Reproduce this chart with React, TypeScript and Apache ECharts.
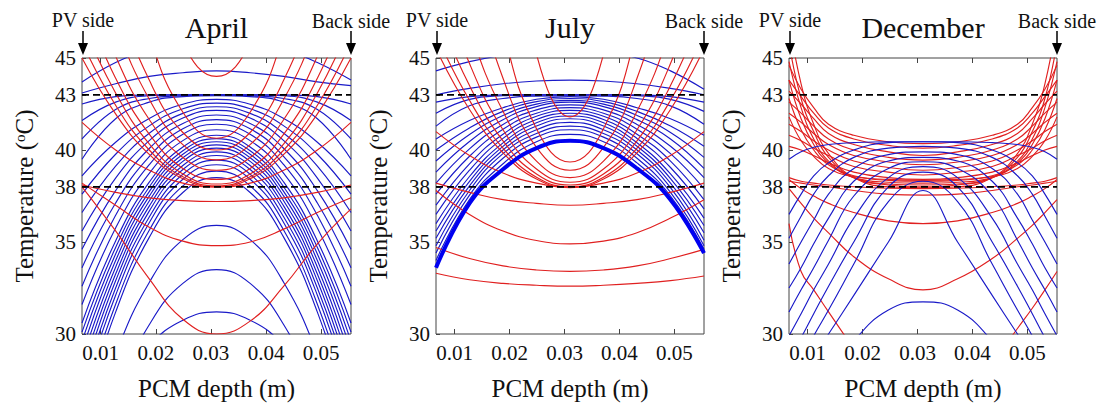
import React, { useEffect, useRef } from "react";
import * as echarts from "echarts";

// ---------- data ----------
const X_APR_JUL = [0.0066, 0.0127, 0.0188, 0.0249, 0.031, 0.0371, 0.0432, 0.0493, 0.0554];
const X_DEC = [0.0066, 0.0088, 0.0111, 0.0138, 0.0184, 0.0247, 0.031, 0.0373, 0.0436, 0.0482, 0.0509, 0.0532, 0.0554];
const X_TICKS = [0.01, 0.02, 0.03, 0.04, 0.05];
const Y_TICKS = [30, 35, 38, 40, 43, 45];
const MELT_RANGE = [38, 43];
const MONTHS = ["April", "July", "December"];

const APRIL_BLUE = [
  [43.7, 44.75, 45.5, 45.95, 46.1, 45.95, 45.5, 44.75, 43.8],
  [43.1, 43.6, 44.0, 44.2, 44.3, 44.2, 44.0, 43.7, 43.5],
  [42.5, 42.9, 43.0, 43.0, 43.0, 43.0, 43.0, 42.9, 42.5],
  [41.6, 42.6, 42.95, 43.0, 43.0, 43.0, 42.95, 42.6, 41.6],
  [40.6, 42.2, 42.8, 42.95, 43.0, 42.95, 42.8, 42.2, 40.6],
  [39.5, 41.7, 42.6, 42.9, 42.95, 42.9, 42.6, 41.7, 39.5],
  [38.6, 40.42, 41.71, 42.49, 42.75, 42.49, 41.71, 40.42, 38.6],
  [37.6, 39.77, 41.31, 42.24, 42.55, 42.24, 41.31, 39.77, 37.6],
  [36.6, 39.12, 40.91, 41.99, 42.35, 41.99, 40.91, 39.12, 36.6],
  [35.6, 38.47, 40.51, 41.74, 42.15, 41.74, 40.51, 38.47, 35.6],
  [34.6, 37.79, 40.08, 41.44, 41.9, 41.44, 40.08, 37.79, 34.6],
  [33.6, 37.12, 39.64, 41.15, 41.65, 41.15, 39.64, 37.12, 33.6],
  [32.6, 36.45, 39.2, 40.85, 41.4, 40.85, 39.2, 36.45, 32.6],
  [31.6, 35.76, 38.73, 40.51, 41.1, 40.51, 38.73, 35.76, 31.6],
  [30.6, 35.06, 38.25, 40.16, 40.8, 40.16, 38.25, 35.06, 30.6],
  [30.1, 34.7, 37.99, 39.96, 40.62, 39.96, 37.99, 34.7, 30.1],
  [29.6, 34.35, 37.74, 39.77, 40.45, 39.77, 37.74, 34.35, 29.6],
  [29.1, 33.99, 37.49, 39.58, 40.28, 39.58, 37.49, 33.99, 29.1],
  [28.6, 33.63, 37.23, 39.38, 40.1, 39.38, 37.23, 33.63, 28.6],
  [28.1, 33.26, 36.95, 39.16, 39.9, 39.16, 36.95, 33.26, 28.1],
  [27.6, 32.89, 36.68, 38.94, 39.7, 38.94, 36.68, 32.89, 27.6],
  [27.1, 32.5, 36.36, 38.68, 39.45, 38.68, 36.36, 32.5, 27.1],
  [26.6, 32.11, 36.05, 38.41, 39.2, 38.41, 36.05, 32.11, 26.6],
  [26.0, 31.62, 35.64, 38.05, 38.85, 38.05, 35.64, 31.62, 26.0],
  [25.5, 31.19, 35.25, 37.69, 38.5, 37.69, 35.25, 31.19, 25.5],
  [23.5, 28.9, 32.8, 35.13, 35.9, 35.13, 32.8, 28.9, 23.5],
  [21.5, 26.75, 30.5, 32.75, 33.5, 32.75, 30.5, 26.75, 21.5],
  [24.0, 27.15, 29.4, 30.75, 31.2, 30.75, 29.4, 27.15, 24.0],
];

const APRIL_RED = [
  [73, 60.3, 51.2, 45.8, 44.0, 45.8, 51.2, 60.3, 73],
  [63.2, 53.3, 46.3, 42.05, 40.64, 42.05, 46.3, 53.3, 63.2],
  [55.2, 48.55, 43.8, 40.95, 40.0, 40.95, 43.8, 48.55, 55.2],
  [52.7, 46.9, 42.76, 40.29, 39.46, 40.29, 42.76, 46.9, 52.7],
  [49.9, 45.1, 41.66, 39.59, 38.9, 39.59, 41.66, 45.1, 49.9],
  [48.2, 43.9, 40.86, 39.0, 38.4, 39.0, 40.86, 43.9, 48.2],
  [46.9, 43.1, 40.33, 38.7, 38.15, 38.7, 40.33, 43.1, 46.9],
  [45.85, 42.43, 40.0, 38.54, 38.05, 38.54, 40.0, 42.43, 45.85],
  [45.0, 41.96, 39.76, 38.44, 38.0, 38.44, 39.76, 41.96, 45.0],
  [41.5, 40.0, 38.9, 38.2, 38.0, 38.2, 38.9, 40.0, 41.5],
  [38.1, 37.7, 37.4, 37.25, 37.2, 37.25, 37.4, 37.7, 38.1],
  [38.2, 37.0, 35.8, 35.05, 34.8, 35.0, 35.7, 36.6, 37.4],
  [38.0, 35.6, 33.0, 30.8, 30.0, 30.7, 32.6, 34.9, 36.8],
];

const JULY_BLUE = [
  [44.3, 44.8, 45.15, 45.35, 45.4, 45.3, 45.0, 44.3, 43.3],
  [43.0, 43.35, 43.6, 43.75, 43.8, 43.75, 43.6, 43.35, 43.0],
  [42.6, 42.9, 43.0, 43.0, 43.0, 43.0, 43.0, 42.9, 42.6],
  [42.0, 42.75, 42.95, 43.0, 43.0, 43.0, 42.95, 42.75, 42.1],
  [41.3, 42.4, 42.8, 42.93, 42.95, 42.93, 42.8, 42.4, 41.4],
  [40.6, 41.6, 42.3, 42.76, 42.9, 42.76, 42.3, 41.7, 40.8],
  [40.0, 41.2, 42.1, 42.63, 42.8, 42.63, 42.1, 41.3, 40.2],
  [39.4, 40.84, 41.88, 42.49, 42.7, 42.49, 41.88, 40.95, 39.6],
  [38.8, 40.46, 41.65, 42.36, 42.6, 42.36, 41.65, 40.6, 39.0],
  [38.2, 40.06, 41.39, 42.18, 42.45, 42.18, 41.39, 40.2, 38.5],
  [37.6, 39.66, 41.13, 42.0, 42.3, 42.0, 41.13, 39.8, 37.9],
  [37.0, 39.25, 40.86, 41.83, 42.15, 41.83, 40.86, 39.4, 37.3],
  [36.5, 38.9, 40.63, 41.66, 42.0, 41.66, 40.63, 39.05, 36.8],
  [36.0, 38.56, 40.39, 41.48, 41.85, 41.48, 40.39, 38.7, 36.3],
  [35.6, 38.3, 40.2, 41.3, 41.7, 41.3, 40.2, 38.45, 35.9],
  [35.2, 38.05, 40.0, 41.1, 41.5, 41.1, 40.0, 38.2, 35.5],
  [34.8, 37.8, 39.8, 40.9, 41.3, 40.9, 39.8, 37.95, 35.1],
  [34.4, 37.55, 39.55, 40.7, 41.1, 40.7, 39.55, 37.7, 34.8],
  [34.0, 37.3, 39.25, 40.45, 40.85, 40.45, 39.3, 37.5, 34.6],
];
const JULY_THICK = [33.6, 37.1, 38.95, 40.1, 40.5, 40.1, 39.0, 37.3, 34.4];

const JULY_RED = [
  [96, 72, 55.4, 45.2, 41.8, 45.2, 55.4, 72, 96],
  [68.2, 55.6, 46.6, 41.16, 39.35, 41.16, 46.6, 55.6, 68.2],
  [58.7, 50.1, 43.9, 40.14, 38.9, 40.14, 43.9, 50.1, 58.7],
  [52.9, 46.6, 42.1, 39.4, 38.5, 39.4, 42.1, 46.6, 52.9],
  [49.8, 44.7, 41.1, 38.97, 38.25, 38.97, 41.1, 44.7, 49.8],
  [47.7, 43.5, 40.5, 38.7, 38.1, 38.7, 40.5, 43.5, 47.7],
  [46.3, 42.7, 40.1, 38.52, 38.0, 38.52, 40.1, 42.7, 46.3],
  [45.5, 42.2, 39.85, 38.42, 37.95, 38.42, 39.85, 42.2, 45.5],
  [41.0, 39.7, 38.75, 38.2, 38.0, 38.2, 38.75, 39.7, 41.0],
  [38.2, 37.7, 37.3, 37.1, 37.0, 37.1, 37.3, 37.7, 38.2],
  [37.8, 36.5, 35.6, 35.08, 34.9, 35.05, 35.5, 36.3, 37.3],
  [34.7, 34.1, 33.7, 33.48, 33.4, 33.48, 33.7, 34.1, 34.6],
  [33.3, 32.95, 32.75, 32.65, 32.6, 32.65, 32.75, 32.9, 33.15],
];

const DEC_BLUE = [
  [39.5, 39.9, 40.15, 40.3, 40.4, 40.45, 40.45, 40.45, 40.4, 40.3, 40.15, 39.9, 39.5],
  [36.5, 37.6, 38.6, 39.3, 40.0, 40.4, 40.45, 40.4, 40.0, 39.3, 38.6, 37.6, 36.5],
  [35.2, 36.4, 37.6, 38.6, 39.6, 40.1, 40.2, 40.1, 39.6, 38.6, 37.6, 36.4, 35.2],
  [33.8, 35.0, 36.2, 37.6, 39.0, 39.75, 39.9, 39.75, 39.0, 37.6, 36.2, 35.0, 33.8],
  [32.5, 33.6, 34.9, 36.3, 38.3, 39.4, 39.6, 39.4, 38.3, 36.3, 34.9, 33.6, 32.5],
  [31.2, 32.4, 33.6, 35.1, 37.5, 39.0, 39.36, 39.0, 37.5, 35.1, 33.6, 32.4, 31.2],
  [29.9, 31.1, 32.4, 33.8, 36.3, 38.5, 39.1, 38.5, 36.3, 33.8, 32.4, 31.1, 29.9],
  [28.7, 29.8, 31.1, 32.6, 35.0, 38.0, 38.8, 38.0, 35.0, 32.6, 31.1, 29.8, 28.7],
  [27.5, 28.6, 29.9, 31.3, 33.8, 37.2, 38.3, 37.2, 33.8, 31.3, 29.9, 28.6, 27.5],
  [26.7, 27.7, 28.8, 30.0, 32.1, 35.0, 37.8, 35.0, 32.1, 30.0, 28.8, 27.7, 26.7],
  [24.0, 25.0, 26.0, 27.5, 29.6, 31.3, 31.75, 31.3, 29.6, 27.5, 26.0, 25.0, 24.0],
];

// steep profiles (hot edges, cool core) and shallow profiles forming the lattice
const DEC_RED = [
  [47.0, 43.6, 41.4, 39.8, 38.5, 38.0, 37.95, 38.0, 38.5, 39.8, 41.4, 43.6, 47.0],
  [45.8, 42.8, 41.0, 39.6, 38.5, 38.1, 38.0, 38.1, 38.5, 39.6, 41.0, 42.8, 45.8],
  [44.8, 42.3, 40.6, 39.4, 38.5, 38.15, 38.1, 38.15, 38.5, 39.4, 40.6, 42.3, 44.8],
  [43.8, 41.7, 40.3, 39.3, 38.5, 38.25, 38.2, 38.25, 38.5, 39.3, 40.3, 41.7, 43.8],
  [42.8, 41.1, 40.0, 39.2, 38.6, 38.35, 38.3, 38.35, 38.6, 39.2, 40.0, 41.1, 42.8],
  [41.8, 40.5, 39.65, 39.0, 38.55, 38.4, 38.35, 38.4, 38.55, 39.0, 39.65, 40.5, 41.8],
  [44.6, 43.3, 42.3, 41.4, 40.8, 40.45, 40.35, 40.45, 40.8, 41.4, 42.3, 43.3, 44.6],
  [43.8, 42.9, 42.0, 41.2, 40.6, 40.25, 40.1, 40.25, 40.6, 41.2, 42.0, 42.9, 43.8],
  [43.2, 42.5, 41.7, 40.9, 40.3, 39.9, 39.7, 39.9, 40.3, 40.9, 41.7, 42.5, 43.2],
  [42.6, 42.0, 41.3, 40.6, 40.0, 39.6, 39.45, 39.6, 40.0, 40.6, 41.3, 42.0, 42.6],
  [42.0, 41.5, 40.9, 40.3, 39.7, 39.35, 39.2, 39.35, 39.7, 40.3, 40.9, 41.5, 42.0],
  [41.4, 41.0, 40.5, 40.0, 39.4, 39.05, 38.9, 39.05, 39.4, 40.0, 40.5, 41.0, 41.4],
  [40.8, 40.5, 40.1, 39.7, 39.1, 38.8, 38.64, 38.8, 39.1, 39.7, 40.1, 40.5, 40.8],
  [40.2, 40.0, 39.7, 39.3, 38.8, 38.5, 38.4, 38.5, 38.8, 39.3, 39.7, 40.0, 40.2],
  [38.5, 38.3, 38.2, 38.1, 38.0, 37.92, 37.9, 37.92, 38.0, 38.1, 38.2, 38.3, 38.5],
  [38.3, 38.2, 38.1, 38.0, 37.8, 37.6, 37.55, 37.6, 37.8, 38.0, 38.1, 38.2, 38.3],
  [38.4, 37.9, 37.5, 37.1, 36.6, 36.15, 36.0, 36.15, 36.6, 37.1, 37.5, 37.9, 38.4],
  [37.9, 37.1, 36.3, 35.5, 34.2, 33.0, 32.4, 33.0, 34.1, 35.2, 35.9, 36.6, 37.3],
  [36.0, 33.4, 32.4, 31.2, 29.2, 26.5, 25.5, 26.0, 28.4, 30.3, 31.4, 32.4, 33.4],
];

// ---------- layout / style ----------
const X_MIN = 0.0066;
const X_MAX = 0.0554;
const X_STEP = 0.0002; // fine step so that the 0.01 multiples fall on ticks
const SERIF = "Liberation Serif";
const BLUE = "#1a1ac8";
const RED = "#e02020";
const GRID_TOP = 58;
const GRID_H = 276;
const LAYOUT = [
  { left: 82, width: 269 },
  { left: 436, width: 268 },
  { left: 789, width: 268 },
];

const isXTick = (v: number) => X_TICKS.some((t) => Math.abs(t - v) < 1e-7);
const isYTick = (v: number) => Y_TICKS.some((t) => Math.abs(t - v) < 1e-7);

function buildOption() {
  const panels = [
    { xs: X_APR_JUL, blue: APRIL_BLUE, red: APRIL_RED, thick: null as number[] | null, blueOnTop: false },
    { xs: X_APR_JUL, blue: JULY_BLUE, red: JULY_RED, thick: JULY_THICK, blueOnTop: false },
    { xs: X_DEC, blue: DEC_BLUE, red: DEC_RED, thick: null as number[] | null, blueOnTop: true },
  ];
  const grid: any[] = [];
  const xAxis: any[] = [];
  const yAxis: any[] = [];
  const series: any[] = [];
  const graphic: any[] = [];

  const mk = (xs: number[], ys: number[], color: string, width: number, p: number, z: number) => ({
    type: "line",
    xAxisIndex: p * 2,
    yAxisIndex: p,
    data: xs.map((x, i) => [x, ys[i]]),
    smooth: 0.45,
    symbol: "none",
    silent: true,
    clip: true,
    z,
    lineStyle: { color, width },
    emphasis: { disabled: true },
  });

  panels.forEach((pn, p) => {
    const L = LAYOUT[p];
    grid.push({
      left: L.left,
      top: GRID_TOP,
      width: L.width,
      height: GRID_H,
      show: true,
      borderColor: "#444",
      borderWidth: 1,
      containLabel: false,
    });
    xAxis.push({
      gridIndex: p,
      type: "value",
      min: X_MIN,
      max: X_MAX,
      interval: X_STEP,
      axisLine: { show: false },
      splitLine: { show: false },
      axisTick: { inside: true, length: 5, customValues: X_TICKS, lineStyle: { color: "#444" } },
      axisLabel: {
        interval: 0,
        fontFamily: SERIF,
        fontSize: 21,
        color: "#111",
        showMinLabel: false,
        showMaxLabel: false,
        formatter: (v: number) => (isXTick(v) ? v.toFixed(2) : ""),
        margin: 8,
      },
      name: "PCM depth (m)",
      nameLocation: "middle",
      nameGap: 42,
      nameTextStyle: { fontFamily: SERIF, fontSize: 25, color: "#111" },
    });
    xAxis.push({
      gridIndex: p,
      type: "value",
      position: "top",
      min: X_MIN,
      max: X_MAX,
      axisLine: { show: false },
      splitLine: { show: false },
      axisTick: { inside: true, length: 5, customValues: X_TICKS, lineStyle: { color: "#444" } },
      axisLabel: { show: false },
    });
    yAxis.push({
      gridIndex: p,
      type: "value",
      min: 30,
      max: 45,
      interval: 1,
      axisLine: { show: false },
      splitLine: { show: false },
      axisTick: { inside: true, length: 4, customValues: Y_TICKS, lineStyle: { color: "#444" } },
      axisLabel: {
        interval: 0,
        fontFamily: SERIF,
        fontSize: 21,
        color: "#111",
        formatter: (v: number) => (isYTick(v) ? String(v) : ""),
        margin: 6,
      },
      name: "Temperature ({sup|o}C)",
      nameLocation: "middle",
      nameRotate: 90,
      nameGap: 45,
      nameTextStyle: {
        fontFamily: SERIF,
        fontSize: 25,
        color: "#111",
        rich: { sup: { fontFamily: SERIF, fontSize: 15, color: "#111", verticalAlign: "top" } },
      },
    });

    const blueZ = pn.blueOnTop ? 3 : 2;
    const redZ = pn.blueOnTop ? 2 : 3;
    pn.blue.forEach((ys) => series.push(mk(pn.xs, ys, BLUE, 1.15, p, blueZ)));
    pn.red.forEach((ys) => series.push(mk(pn.xs, ys, RED, 1.15, p, redZ)));
    if (pn.thick) series.push(mk(pn.xs, pn.thick, "#0000f0", 4, p, 4));
    MELT_RANGE.forEach((v) =>
      series.push({
        type: "line",
        xAxisIndex: p * 2,
        yAxisIndex: p,
        data: [
          [X_MIN, v],
          [X_MAX, v],
        ],
        symbol: "none",
        silent: true,
        z: 6,
        lineStyle: { color: "#000", width: 1.8, type: [7, 4] },
      })
    );

    const cx = L.left + L.width / 2;
    const xl = L.left;
    const xr = L.left + L.width;
    graphic.push({
      type: "text",
      x: cx,
      y: 27,
      style: { text: MONTHS[p], fontFamily: SERIF, fontSize: 30, fill: "#111", textAlign: "center", textVerticalAlign: "middle" },
    });
    graphic.push({
      type: "text",
      x: xl + 1,
      y: 20,
      style: { text: "PV side", fontFamily: SERIF, fontSize: 20, fill: "#111", textAlign: "center", textVerticalAlign: "middle" },
    });
    graphic.push({
      type: "text",
      x: xr,
      y: 21,
      style: { text: "Back side", fontFamily: SERIF, fontSize: 20, fill: "#111", textAlign: "center", textVerticalAlign: "middle" },
    });
    [xl + 1, xr].forEach((ax) => {
      graphic.push({ type: "line", shape: { x1: ax, y1: 31, x2: ax, y2: 45 }, style: { stroke: "#000", lineWidth: 1.5 } });
      graphic.push({
        type: "polygon",
        shape: { points: [[ax - 5, 43], [ax + 5, 43], [ax, 55]] },
        style: { fill: "#000" },
      });
    });
  });

  return {
    animation: false,
    backgroundColor: "#ffffff",
    textStyle: { fontFamily: SERIF, fontSize: 21, color: "#111" },
    grid,
    xAxis,
    yAxis,
    series,
    graphic,
  };
}

export default function App() {
  const ref = useRef<HTMLDivElement | null>(null);
  useEffect(() => {
    if (!ref.current) return;
    const chart = echarts.init(ref.current, null, { renderer: "svg" });
    chart.setOption(buildOption() as any);
    return () => chart.dispose();
  }, []);
  return (
    <div
      ref={ref}
      style={{ position: "absolute", left: 0, top: 0, width: 1101, height: 406, background: "#fff" }}
    />
  );
}
